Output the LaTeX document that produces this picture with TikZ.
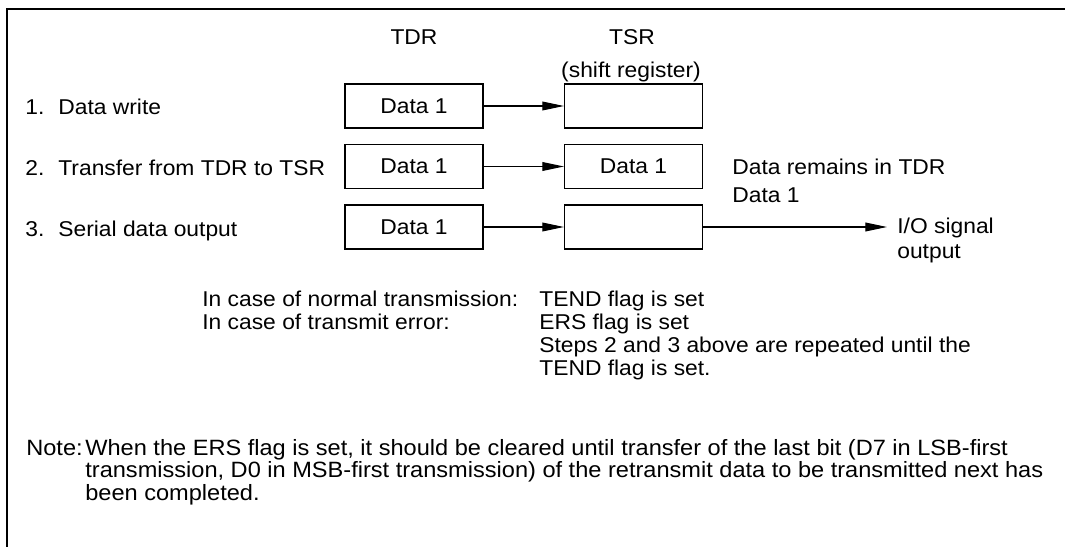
\documentclass[tikz,border=0pt]{standalone}
\usepackage{fontspec}
\setmainfont{Liberation Sans}[FakeStretch=1.065]
\usetikzlibrary{arrows.meta,positioning}

\begin{document}
\begin{tikzpicture}[x=0.02cm, y=-0.02cm,
  every node/.style={font=\fontsize{12.2}{13}\selectfont, inner sep=0pt},
  reg/.style={draw, line width=0.65pt, minimum width=2.76cm, minimum height=0.88cm},
  txt/.style={anchor=base west},
  notetxt/.style={txt, font=\fontsize{12.6}{14}\selectfont},
  arr/.style={-{Triangle[length=12.3pt,width=5pt]}, line width=0.6pt}]
\useasboundingbox (0,0) rectangle (1065,547);
\draw [line width=1.13pt] (7,547) -- (7,9) -- (1065,9);

% column heads
\node [anchor=base] (tdrlbl) at (414,45) {TDR};
\node [anchor=base] (tsrlbl) at (632,45) {TSR};
\node [anchor=base] (shiftlbl) at (631,78) {(shift register)};

% steps
\node [txt] (stepa) at (25,115) {\makebox[0.66cm][l]{1.}Data write};
\node [txt] (stepb) at (25,176) {\makebox[0.66cm][l]{2.}Transfer from TDR to TSR};
\node [txt] (stepc) at (25,236) {\makebox[0.66cm][l]{3.}Serial data output};

% registers
\node [reg] (tdra) at (414,106) {Data 1};
\node [reg] (tsra) at (633.5,106) {};
\node [reg] (tdrb) at (414,166.5) {Data 1};
\node [reg] (tsrb) at (633.5,166.5) {Data 1};
\node [reg] (tdrc) at (414,227) {Data 1};
\node [reg] (tsrc) at (633.5,227) {};

\draw [arr] (tdra) -- (tsra);
\draw [arr] (tdrb) -- (tsrb);
\draw [arr] (tdrc) -- (tsrc);
\coordinate (ioend) at (887,227);
\draw [arr] (tsrc) -- (ioend);

\node [txt] (remain) at (732,175) {Data remains in TDR};
\node [txt] (remaindata) at (732,203) {Data 1};
\node [txt] (iosig) at (897,234) {I/O signal};
\node [txt] (ioout) at (897,258) {output};

% flags
\node [txt] (normal) at (202,306) {In case of normal transmission:};
\node [txt] (error) at (202,329) {In case of transmit error:};
\node [txt] (tend) at (539,306) {TEND flag is set};
\node [txt] (ers) at (539,329) {ERS flag is set};
\node [txt] (repeat) at (539,352) {Steps 2 and 3 above are repeated until the};
\node [txt] (repeatb) at (539,375) {TEND flag is set.};

% note
\node [notetxt] (note) at (26,455) {Note:};
\node [notetxt] (notea) at (85,455) {When the ERS flag is set, it should be cleared until transfer of the last bit (D7 in LSB-first};
\node [notetxt] (noteb) at (85,477.5) {transmission, D0 in MSB-first transmission) of the retransmit data to be transmitted next has};
\node [notetxt] (notec) at (85,500) {been completed.};

\end{tikzpicture}
\end{document}
